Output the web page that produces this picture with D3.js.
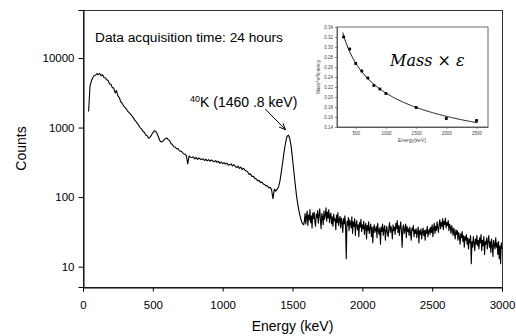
<!DOCTYPE html>
<html><head><meta charset="utf-8">
<script src="https://cdn.jsdelivr.net/npm/d3@7"></script>
<style>
body{margin:0;background:#fff}
svg{font-family:"Liberation Sans",Arial,sans-serif}
</style>
</head><body>
<svg id="c" width="516" height="336"></svg>
<script>
// ---- main spectrum data, low part (10 keV channels) and high part (5 keV channels)
const lowStart = 40, lowStep = 10;
const lowCounts = [
  1700,3900,4700,5200,5600,5650,5950,5750,6000,5550,5750,5250,5200,4850,4750,4250,4200,
  3750,3700,3150,3400,2850,2700,2350,2250,2050,1950,1850,1720,1640,1560,1480,1380,1290,1220,1140,1070,
  990,950,880,850,780,760,700,730,780,840,900,880,820,730,650,620,630,670,690,710,670,650,590,570,530,525,495,500,465,455,
  445,420,415,395,300,392,375,372,380,355,372,348,365,352,348,356,336,350,332,345,328,342,330,322,335,316,328,306,320,302,
  314,298,308,288,292,300,280,293,278,265,279,258,270,250,260,243,238,228,212,214,198,199,186,183,172,174,163,164,155,152,145,146,136,138,128,95,130,122,130,140,
  170,230,320,450,600,740,780,700,540,360,230,150,100,75,58,48,42,40
];
const highStart = 1585, highStep = 5;
const highCounts = [
  45,58,41,52,63,39,55,47,66,43,
  54,36,59,49,61,44,38,57,50,64,
  42,55,68,46,35,58,52,40,63,48,
  56,70,45,61,50,66,43,55,59,41,
  52,38,57,46,49,34,55,43,60,39,
  47,53,36,50,44,31,49,41,54,37,
  13,45,39,51,33,47,42,36,52,30,
  44,38,49,28,41,46,34,40,27,43,
  37,48,32,40,35,45,29,38,42,25,
  39,33,44,30,36,41,27,37,22,35,
  40,31,34,38,26,42,33,29,36,21,
  37,32,41,28,35,39,24,33,38,30,
  27,36,43,31,38,34,25,40,33,37,
  29,42,35,46,31,39,28,37,44,32,
  19,36,40,30,34,41,26,38,32,35,
  28,37,31,24,36,33,39,27,34,30,
  35,26,32,37,22,33,29,35,25,31,
  36,28,33,24,34,30,38,27,32,35,
  29,37,31,40,27,35,42,30,38,33,
  44,36,31,41,47,35,43,38,49,34,
  45,40,50,36,43,39,46,33,41,37,
  30,39,34,28,36,31,25,34,29,33,
  24,31,27,21,30,26,32,23,28,19,
  27,24,29,21,26,18,25,22,28,11,
  23,19,27,22,17,25,21,28,20,24,
  18,26,22,29,17,24,20,27,15,23,
  21,26,18,24,28,19,23,16,25,20,
  14,24,21,18,26,19,22,15,23,13,
  20,11,22,18
];
const xTicks = [0,500,1000,1500,2000,2500,3000];
const yTicks = [10,100,1000,10000];

// ---- inset: mass x efficiency
const effEnergy = [300,400,500,600,700,800,900,1000,1500,2000,2500];
const effValue  = [0.320,0.296,0.267,0.252,0.238,0.223,0.216,0.207,0.179,0.157,0.153];
const insetXTicks = [500,1000,1500,2000,2500];
const insetYTicks = [0.14,0.16,0.18,0.20,0.22,0.24,0.26,0.28,0.30,0.32,0.34];

const svg = d3.select("#c");
svg.append("rect").attr("width",516).attr("height",336).attr("fill","#fff");

const x = d3.scaleLinear().domain([0,3000]).range([83,502]);
const y = d3.scaleLog().domain([5.1,49000]).range([287,10]);

const data = lowCounts.map((c,i)=>({e: lowStart + i*lowStep, c}))
  .concat(highCounts.map((c,i)=>({e: highStart + i*highStep, c})));

// frame
svg.append("rect").attr("x",83.5).attr("y",10.5).attr("width",419).attr("height",277)
  .attr("fill","none").attr("stroke","#333").attr("stroke-width",1);

// axes
const xAxis = svg.append("g").attr("transform","translate(0,287.5)")
  .call(d3.axisBottom(x).tickValues(xTicks).tickFormat(d3.format("d")).tickSizeOuter(0).tickSize(4).tickPadding(9));
const yAxis = svg.append("g").attr("transform","translate(83.5,0)")
  .call(d3.axisLeft(y).tickValues(yTicks).tickFormat(d3.format("d")).tickSizeOuter(0).tickSize(5).tickPadding(4));
[xAxis,yAxis].forEach(g=>{
  g.select(".domain").attr("stroke","#000");
  g.selectAll(".tick line").attr("stroke","#000");
  g.selectAll("text").style("font-size","11.5px").style("font-family","Liberation Sans, Arial, sans-serif");
});

svg.append("text").attr("x",292.5).attr("y",331).attr("text-anchor","middle")
  .style("font-size","14px").text("Energy (keV)");
svg.append("text").attr("transform","translate(26,148.5) rotate(-90)").attr("text-anchor","middle")
  .style("font-size","14px").text("Counts");

// spectrum line
svg.append("defs").append("clipPath").attr("id","clp").append("rect")
  .attr("x",83).attr("y",10).attr("width",419).attr("height",277);
svg.append("path").datum(data).attr("clip-path","url(#clp)")
  .attr("fill","none").attr("stroke","#000").attr("stroke-width",1.1).attr("stroke-linejoin","round")
  .attr("d", d3.line().x(d=>x(d.e)).y(d=>y(d.c)));

// annotations
svg.append("text").attr("x",95).attr("y",42).style("font-size","13.7px").text("Data acquisition time: 24 hours");
const lab = svg.append("text").attr("x",190).attr("y",107).style("font-size","14px");
lab.append("tspan").style("font-size","9px").attr("dy",-5.5).text("40");
lab.append("tspan").attr("dy",5.5).text("K (1460 .8 keV)");

// arrow (in data coordinates)
const a0 = [x(1305), y(1850)], a1 = [x(1450), y(930)];
svg.append("line").attr("x1",a0[0]).attr("y1",a0[1]).attr("x2",a1[0]).attr("y2",a1[1])
  .attr("stroke","#000").attr("stroke-width",1);
{
  const ang = Math.atan2(a1[1]-a0[1], a1[0]-a0[0]), L = 7, w = 0.4;
  const p1 = [a1[0]-L*Math.cos(ang-w), a1[1]-L*Math.sin(ang-w)];
  const p2 = [a1[0]-L*Math.cos(ang+w), a1[1]-L*Math.sin(ang+w)];
  svg.append("path").attr("d",`M${p1}L${a1}L${p2}`).attr("fill","none").attr("stroke","#000").attr("stroke-width",1);
}

// ---- inset
const ix = d3.scaleLinear().domain([190,2690]).range([337,488]);
const iy = d3.scaleLinear().domain([0.14,0.34]).range([127,27]);
const ig = svg.append("g");
ig.append("rect").attr("x",337).attr("y",27).attr("width",151).attr("height",100)
  .attr("fill","#fff").attr("stroke","#444").attr("stroke-width",0.8);
const ixa = ig.append("g").attr("transform","translate(0,127)")
  .call(d3.axisBottom(ix).tickValues(insetXTicks).tickFormat(d3.format("d")).tickSize(2).tickSizeOuter(0).tickPadding(3));
const iya = ig.append("g").attr("transform","translate(337,0)")
  .call(d3.axisLeft(iy).tickValues(insetYTicks).tickFormat(d3.format(".2f")).tickSize(2).tickSizeOuter(0).tickPadding(2));
[ixa,iya].forEach(g=>{
  g.select(".domain").attr("stroke","#444").attr("stroke-width",0.8);
  g.selectAll(".tick line").attr("stroke","#444").attr("stroke-width",0.6);
  g.selectAll("text").style("font-size","4.5px").attr("fill","#444").style("font-family","Liberation Sans, Arial, sans-serif");
});
ig.append("text").attr("x",412).attr("y",142).attr("text-anchor","middle").style("font-size","5px").attr("fill","#444").text("Energy(keV)");
ig.append("text").attr("transform","translate(320,77) rotate(-90)").attr("text-anchor","middle")
  .style("font-size","5px").attr("fill","#444").text("Mass*efficiency");

// power-law fit of the efficiency points (log-log least squares)
{
  const lx = effEnergy.map(Math.log), ly = effValue.map(Math.log);
  const mx = d3.mean(lx), my = d3.mean(ly);
  const b = d3.sum(lx.map((v,i)=>(v-mx)*(ly[i]-my))) / d3.sum(lx.map(v=>(v-mx)*(v-mx)));
  const a = my - b*mx;
  const fitE = d3.range(285, 2521, 15);
  ig.append("path").datum(fitE).attr("fill","none").attr("stroke","#000").attr("stroke-width",0.9)
    .attr("d", d3.line().x(e=>ix(e)).y(e=>iy(Math.exp(a + b*Math.log(e)))));
}
ig.selectAll("rect.pt").data(effEnergy).join("rect").attr("class","pt")
  .attr("x",(d)=>ix(d)-1.4).attr("y",(d,i)=>iy(effValue[i])-1.4).attr("width",2.8).attr("height",2.8).attr("fill","#000");

ig.append("text").attr("x",390).attr("y",66)
  .style("font-size","16px").style("font-family","'DejaVu Serif', 'Liberation Serif', serif").style("font-style","italic")
  .text("Mass × ε");
</script>
</body></html>
